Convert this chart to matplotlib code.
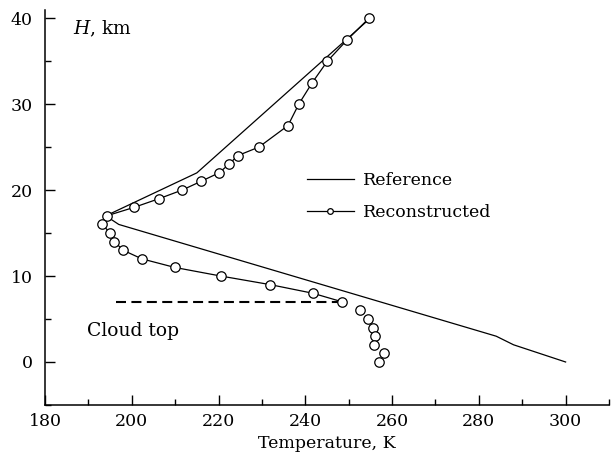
import matplotlib
matplotlib.use('Agg')
import matplotlib.pyplot as plt
from matplotlib.ticker import MultipleLocator

# reference profile (K, km)
ref_T = [255, 215, 194, 197, 284, 288, 300]
ref_H = [40, 22, 17, 16, 3, 2, 0]

# reconstructed profile above cloud top (connected)
rec_T = [254.7, 249.7, 245.1, 241.6, 238.5, 236.0, 229.3, 224.4, 222.4, 220.1,
         215.9, 211.6, 206.3, 200.6, 194.2, 193.2, 195.0, 196.0, 198.0, 202.3,
         209.9, 220.5, 231.9, 241.7, 248.5]
rec_H = [40, 37.5, 35, 32.5, 30, 27.5, 25, 24, 23, 22,
         21, 20, 19, 18, 17, 16, 15, 14, 13, 12,
         11, 10, 9, 8, 7]
# below cloud top (points only)
low_T = [252.5, 254.5, 255.5, 256.1, 255.8, 258.1, 257.0]
low_H = [6, 5, 4, 3, 2, 1, 0]

cloud_T = [196.4, 248.5]
cloud_H = [7, 7]

fs = 12.5
plt.rcParams['font.family'] = ['DejaVu Serif']
plt.rcParams['mathtext.fontset'] = 'dejavuserif'

fig = plt.figure(figsize=(6.11, 4.54), dpi=100)
ax = fig.add_axes([0.0737, 0.108, 0.9967 - 0.0737, 0.979 - 0.108])

ax.plot(ref_T, ref_H, color='black', lw=0.9, label='Reference')
ax.plot(rec_T, rec_H, color='black', lw=0.9, marker='o', ms=6.8,
        mfc='white', mec='black', mew=0.9, label='Reconstructed')
ax.plot(low_T, low_H, ls='none', marker='o', ms=6.8,
        mfc='white', mec='black', mew=0.9)
ax.plot(cloud_T, cloud_H, color='black', lw=1.5, ls=(0, (4.8, 2.6)), zorder=1)

ax.text(189.7, 3.6, 'Cloud top', fontsize=13.5, va='center', ha='left')
ax.text(186.4, 38.8, '$H$, km', fontsize=13.5, va='center', ha='left')

leg = ax.legend(loc='center left', bbox_to_anchor=(0.436, 0.527), frameon=False,
                fontsize=fs, handlelength=2.76, handletextpad=0.5,
                labelspacing=0.9, markerscale=0.6)

ax.set_xlim(180, 310)
ax.set_ylim(-5, 41)
ax.xaxis.set_major_locator(MultipleLocator(20))
ax.xaxis.set_minor_locator(MultipleLocator(10))
ax.yaxis.set_major_locator(MultipleLocator(10))
ax.yaxis.set_minor_locator(MultipleLocator(5))
ax.set_xticks([180, 200, 220, 240, 260, 280, 300])
ax.tick_params(which='major', direction='in', length=7, width=1, labelsize=fs)
ax.tick_params(which='minor', direction='in', length=4, width=1)
ax.tick_params(axis='y', pad=9)
ax.tick_params(axis='x', pad=6)

ax.spines['top'].set_visible(False)
ax.spines['right'].set_visible(False)
ax.spines['left'].set_linewidth(1.1)
ax.spines['bottom'].set_linewidth(1.1)

ax.set_xlabel('Temperature, K', fontsize=fs)
ax.xaxis.set_label_coords(0.5, -0.075)

plt.savefig('out.png', dpi=100)
plt.close('all')
